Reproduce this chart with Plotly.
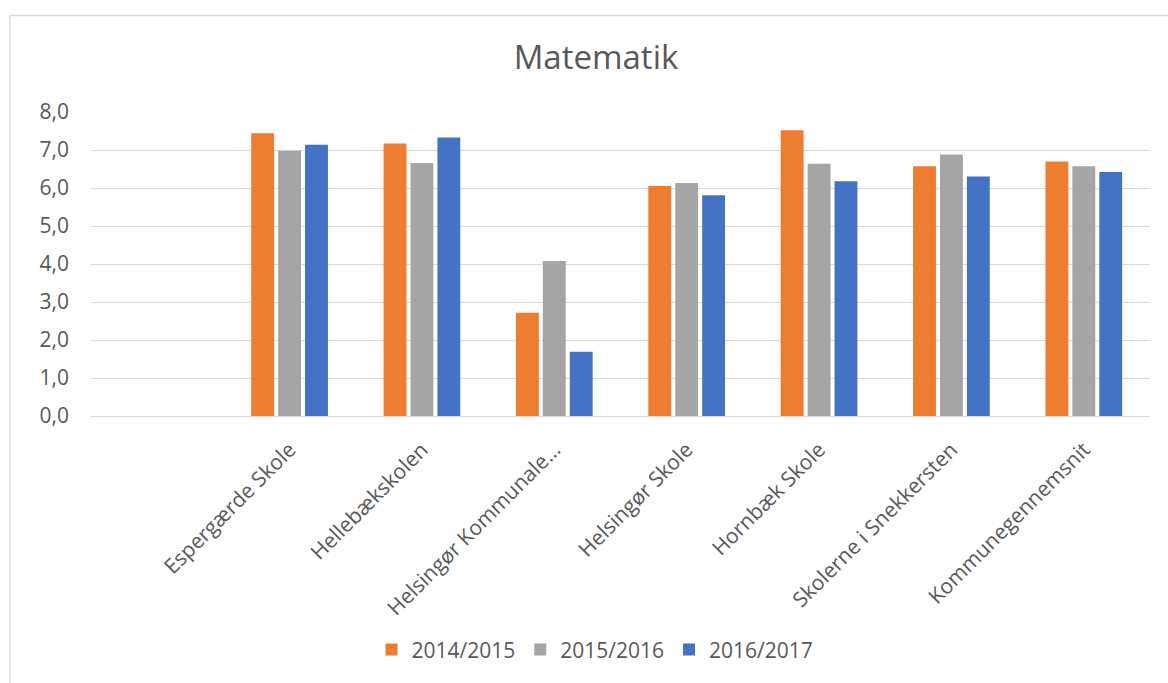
import plotly.graph_objects as go

categories = ["Espergærde Skole", "Hellebækskolen", "Helsingør Kommunale…",
              "Helsingør Skole", "Hornbæk Skole", "Skolerne i Snekkersten",
              "Kommunegennemsnit"]
series_names = ["2014/2015", "2015/2016", "2016/2017"]
v_2014_2015 = [7.44, 7.17, 2.72, 6.05, 7.52, 6.57, 6.70]
v_2015_2016 = [6.98, 6.66, 4.08, 6.13, 6.64, 6.88, 6.57]
v_2016_2017 = [7.14, 7.33, 1.69, 5.81, 6.18, 6.30, 6.42]
colors = ["#ED7D31", "#A5A5A5", "#4472C4"]
y_ticks = [0, 1, 2, 3, 4, 5, 6, 7, 8]

FONT = "Open Sans"
TXT = "#595959"
GRID = "#D9D9D9"

fig = go.Figure()
for name, vals, col in zip(series_names, [v_2014_2015, v_2015_2016, v_2016_2017], colors):
    fig.add_trace(go.Bar(x=categories, y=vals, name=name, marker_color=col,
                         marker_line_width=0))

L, R, T, B = 91, 18, 112, 259
W, H = 1168, 683
pw, ph = W - L - R, H - T - B

def px(x):
    return (x - L) / pw

def py(y):
    return (H - B - y) / ph

fig.update_layout(
    width=W, height=H,
    margin=dict(l=L, r=R, t=T, b=B),
    paper_bgcolor="white", plot_bgcolor="white",
    separators=",.",
    font=dict(family=FONT, color=TXT, size=21),
    title=dict(text="Matematik", x=px(596), xanchor="center", xref="paper",
               y=1 - 57 / H, yanchor="middle", yref="container",
               font=dict(size=33, color=TXT, family=FONT)),
    barmode="group", bargap=0.39, bargroupgap=0.15,
    showlegend=True,
    legend=dict(orientation="h", x=px(595), xanchor="center", y=py(664),
                yanchor="middle", font=dict(size=21, color=TXT), itemclick=False,
                traceorder="normal"),
    xaxis=dict(type="category", categoryorder="array", categoryarray=categories,
               range=[-1.5, len(categories) - 0.5], tickangle=-45,
               showgrid=False, showline=True, linecolor=GRID, linewidth=1.3,
               ticks="", ticklabelstandoff=12, tickfont=dict(size=21, color=TXT)),
    yaxis=dict(range=[0, 8], tickvals=y_ticks, tickformat=".1f",
               showgrid=True, gridcolor=GRID, gridwidth=1.3, zeroline=False,
               showline=False, ticks="", ticklabelstandoff=21,
               tickfont=dict(size=21, color=TXT)),
)

fig.add_shape(type="rect", xref="paper", yref="paper",
              x0=px(10), x1=px(1200), y0=py(800), y1=py(13),
              line=dict(color=GRID, width=1.5), fillcolor="rgba(0,0,0,0)", layer="below")

fig.write_html("out.html", config={"displayModeBar": False},
               post_script="document.body.style.margin='0';")
